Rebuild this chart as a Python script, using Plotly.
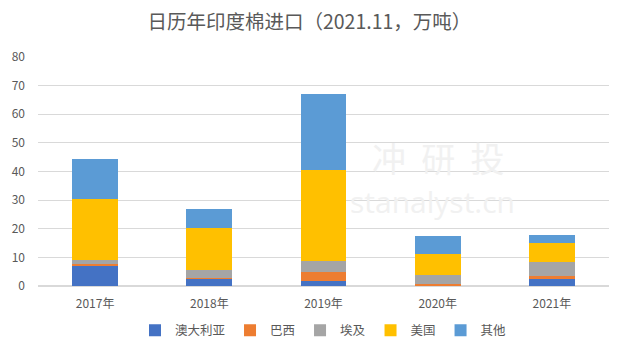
import plotly.graph_objects as go

years = ["2017年", "2018年", "2019年", "2020年", "2021年"]
australia = [7.1, 2.7, 1.8, 0.1, 2.5]
brazil = [0.5, 0.2, 3.0, 0.5, 1.0]
egypt = [1.4, 2.6, 3.9, 3.1, 4.8]
usa = [21.3, 14.7, 31.7, 7.4, 6.8]
other = [14.2, 6.8, 26.6, 6.4, 2.8]

series = [
    ("澳大利亚", australia, "#4472C4"),
    ("巴西", brazil, "#ED7D31"),
    ("埃及", egypt, "#A5A5A5"),
    ("美国", usa, "#FFC000"),
    ("其他", other, "#5B9BD5"),
]

font_family = "Noto Sans CJK SC, Liberation Sans, sans-serif"

fig = go.Figure()
for name, vals, color in series:
    fig.add_trace(go.Bar(x=years, y=vals, name=name,
                         marker=dict(color=color, line=dict(width=0))))

fig.update_layout(
    barmode="stack",
    bargap=0.6,
    width=625, height=357,
    margin=dict(l=38, r=16, t=57, b=70),
    paper_bgcolor="white", plot_bgcolor="white",
    font=dict(family=font_family, color="#595959", size=12),
    title=dict(text="日历年印度棉进口（2021.11，万吨）", x=0.495, xanchor="center",
               y=0.938, yanchor="middle",
               font=dict(size=19.5, color="#595959", family=font_family)),
    legend=dict(orientation="h", x=0.5, xanchor="center", y=-0.19, yanchor="middle",
                font=dict(size=12.5, color="#595959"), traceorder="normal",
                itemwidth=30, tracegroupgap=0),
    xaxis=dict(showgrid=False, showline=False, ticks="", tickfont=dict(size=12),
               ticklabelstandoff=9),
    yaxis=dict(range=[0, 80], dtick=10, showgrid=True, gridcolor="#d9d9d9",
               gridwidth=1, zeroline=True, zerolinecolor="#d9d9d9",
               showline=False, ticks="", tickfont=dict(size=12), ticklabelstandoff=12),
)

# faint watermark texts (paper coordinates), placed clear of the bars
fig.add_annotation(text="冲  研  投", x=(370 - 38) / 571, y=(287 - 158) / 230,
                   xref="paper", yref="paper", xanchor="left", yanchor="middle",
                   showarrow=False,
                   font=dict(size=34, color="#f1f1f1", family=font_family))
fig.add_annotation(text="stanalyst.cn", x=(348 - 38) / 571, y=(287 - 202) / 230,
                   xref="paper", yref="paper", xanchor="left", yanchor="middle",
                   showarrow=False,
                   font=dict(size=30, color="#f1f1f1", family="Open Sans, sans-serif"))

fig.write_html("out.html", config={"displayModeBar": False},
               post_script="document.body.style.margin='0';")
